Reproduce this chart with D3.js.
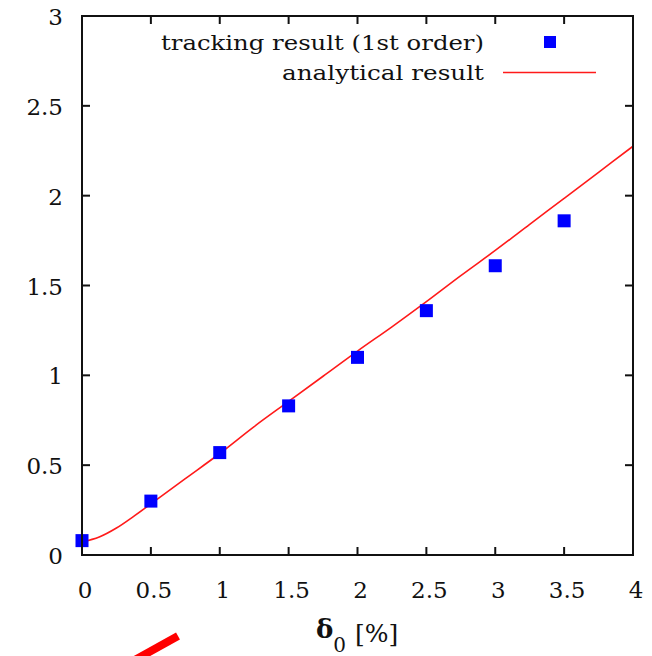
<!DOCTYPE html>
<html>
<head>
<meta charset="utf-8">
<script src="https://cdn.jsdelivr.net/npm/d3@7"></script>
<style>
  html, body { margin: 0; padding: 0; background: #fff; }
  svg { display: block; }
  text { font-family: "DejaVu Serif", "Liberation Serif", serif; fill: #111; }
</style>
</head>
<body>
<svg id="chart" width="652" height="656"></svg>
<script>
// Tracking result (1st order): momentum offset δ0 [%] vs. measured value
const trackX = [0, 0.5, 1, 1.5, 2, 2.5, 3, 3.5];
const trackY = [0.08, 0.30, 0.57, 0.83, 1.10, 1.36, 1.61, 1.86];

// Analytical result, sampled along δ0
const analyticX = [0, 0.125, 0.25, 0.375, 0.5, 0.75, 1, 1.25, 1.5, 1.75, 2, 2.25, 2.5, 2.75, 3, 3.25, 3.5, 3.75, 4];
const analyticY = [0.072, 0.10, 0.15, 0.215, 0.285, 0.425, 0.565, 0.715, 0.855, 0.995, 1.135, 1.27, 1.41, 1.555, 1.695, 1.84, 1.985, 2.13, 2.275];

const xTicks = [0, 0.5, 1, 1.5, 2, 2.5, 3, 3.5, 4];
const yTicks = [0, 0.5, 1, 1.5, 2, 2.5, 3];
const xTickLabels = ["0", "0.5", "1", "1.5", "2", "2.5", "3", "3.5", "4"];
const yTickLabels = ["0", "0.5", "1", "1.5", "2", "2.5", "3"];

const legendLabels = ["tracking result (1st order)", "analytical result"];

const svg = d3.select("#chart");
const plotL = 82, plotR = 633, plotT = 16, plotB = 555;

const x = d3.scaleLinear().domain([0, 4]).range([plotL, plotR]);
const y = d3.scaleLinear().domain([0, 3]).range([plotB, plotT]);

const tickLen = 8;

// Mirrored inward ticks on all four sides
const g = svg.append("g");
g.selectAll("line.xb").data(xTicks.slice(1, -1)).join("line")
  .attr("x1", d => x(d)).attr("x2", d => x(d))
  .attr("y1", plotB).attr("y2", plotB - tickLen)
  .attr("stroke", "#111").attr("stroke-width", 2);
g.selectAll("line.xt").data(xTicks.slice(1, -1)).join("line")
  .attr("x1", d => x(d)).attr("x2", d => x(d))
  .attr("y1", plotT).attr("y2", plotT + tickLen)
  .attr("stroke", "#111").attr("stroke-width", 2);
g.selectAll("line.yl").data(yTicks.slice(1, -1)).join("line")
  .attr("x1", plotL).attr("x2", plotL + tickLen)
  .attr("y1", d => y(d)).attr("y2", d => y(d))
  .attr("stroke", "#111").attr("stroke-width", 2);
g.selectAll("line.yr").data(yTicks.slice(1, -1)).join("line")
  .attr("x1", plotR).attr("x2", plotR - tickLen)
  .attr("y1", d => y(d)).attr("y2", d => y(d))
  .attr("stroke", "#111").attr("stroke-width", 2);

// Tick labels
svg.append("g").selectAll("text").data(xTicks).join("text")
  .attr("x", d => x(d) + 3)
  .attr("y", plotB + 43)
  .attr("text-anchor", "middle")
  .attr("font-size", 23)
  .text((d, i) => xTickLabels[i]);

svg.append("g").selectAll("text").data(yTicks).join("text")
  .attr("x", 63)
  .attr("y", d => y(d) + 9)
  .attr("text-anchor", "end")
  .attr("font-size", 23)
  .text((d, i) => yTickLabels[i]);

// Analytical curve
const line = d3.line()
  .x(d => x(d[0])).y(d => y(d[1]))
  .curve(d3.curveCatmullRom);
svg.append("path")
  .datum(d3.zip(analyticX, analyticY))
  .attr("d", line)
  .attr("fill", "none")
  .attr("stroke", "#ff1a1a")
  .attr("stroke-width", 1.6);

// Tracking points
const sq = 13;
svg.append("g").selectAll("rect").data(d3.zip(trackX, trackY)).join("rect")
  .attr("x", d => x(d[0]) - sq / 2)
  .attr("y", d => y(d[1]) - sq / 2)
  .attr("width", sq).attr("height", sq)
  .attr("fill", "#0000ff");

// Frame
svg.append("rect")
  .attr("x", plotL).attr("y", plotT)
  .attr("width", plotR - plotL).attr("height", plotB - plotT)
  .attr("fill", "none").attr("stroke", "#111").attr("stroke-width", 2);

// Legend
const legRight = 484;
svg.append("text")
  .attr("x", legRight).attr("y", 50)
  .attr("text-anchor", "end").attr("font-size", 20)
  .attr("textLength", 323).attr("lengthAdjust", "spacingAndGlyphs")
  .text(legendLabels[0]);
svg.append("rect")
  .attr("x", 544).attr("y", 36).attr("width", 12).attr("height", 12)
  .attr("fill", "#0000ff");
svg.append("text")
  .attr("x", legRight).attr("y", 80)
  .attr("text-anchor", "end").attr("font-size", 20)
  .attr("textLength", 202).attr("lengthAdjust", "spacingAndGlyphs")
  .text(legendLabels[1]);
svg.append("line")
  .attr("x1", 503).attr("x2", 596).attr("y1", 72.5).attr("y2", 72.5)
  .attr("stroke", "#ff1a1a").attr("stroke-width", 1.6);

// Axis title: δ0 [%]
const title = svg.append("text")
  .attr("x", 316).attr("y", 638);
title.append("tspan").attr("font-weight", "bold").attr("font-size", 26).text("δ");
title.append("tspan").attr("font-size", 20).attr("dy", 14).text("0");
title.append("tspan").attr("font-size", 25).attr("dy", -10).attr("dx", 9).text("[%]");

// Red pen stroke at the lower left
svg.append("line")
  .attr("x1", 178).attr("y1", 636)
  .attr("x2", 124).attr("y2", 666)
  .attr("stroke", "#ff0000").attr("stroke-width", 8);
</script>
</body>
</html>
